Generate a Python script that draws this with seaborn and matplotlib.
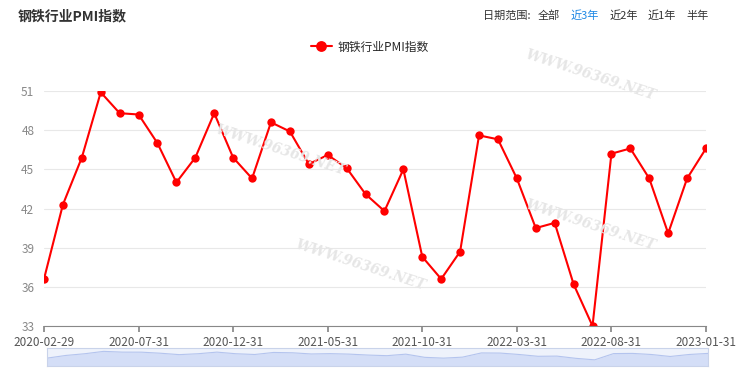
import numpy as np
import pandas as pd
import matplotlib
matplotlib.use("Agg")
import matplotlib.pyplot as plt
import seaborn as sns

sns.set_theme(style="white")
plt.rcParams['font.family'] = ['Noto Sans CJK SC', 'DejaVu Sans']

# monthly steel PMI, Feb 2020 .. Jan 2023
dates = pd.date_range("2020-02-29", periods=36, freq="ME")
pmi = [36.6, 42.3, 45.9, 50.9, 49.3, 49.2, 47.0, 44.0, 45.9, 49.3, 45.9, 44.3,
       48.6, 47.9, 45.4, 46.1, 45.1, 43.1, 41.8, 45.0, 38.3, 36.6, 38.7, 47.6,
       47.3, 44.3, 40.5, 40.9, 36.2, 33.0, 46.2, 46.6, 44.3, 40.1, 44.3, 46.6]
yticks = [33, 36, 39, 42, 45, 48, 51]
series_name = "钢铁行业PMI指数"
range_btns = ["全部", "近3年", "近2年", "近1年", "半年"]

df = pd.DataFrame({"date": dates, "value": pmi, "idx": np.arange(len(pmi))})
tick_idx = list(range(0, len(pmi), 5))
tick_lbl = [df["date"][i].strftime("%Y-%m-%d") for i in tick_idx]

fig = plt.figure(figsize=(7.4, 3.74), dpi=100)
ax = fig.add_axes([44 / 740, 1 - 326 / 374, 662 / 740, 235 / 374])

# faint watermarks
for (wx, wy) in [(280, 150), (360, 265), (590, 75), (590, 225)]:
    fig.text(wx / 740, 1 - wy / 374, "WWW.96369.NET", fontsize=10, family="DejaVu Serif",
             style="italic", fontweight="bold", color="#e6e6e6", rotation=-18,
             ha="center", va="center", zorder=0)

sns.lineplot(data=df, x="idx", y="value", ax=ax, color="#ff0000", lw=1.5,
             marker="o", markersize=6, markeredgewidth=0, label=series_name)
ax.patch.set_alpha(0)

ax.set_xlim(0, len(pmi) - 1)
ax.set_ylim(33, 51)
ax.set_yticks(yticks)
ax.set_yticklabels([str(v) for v in yticks], color="#888888", fontsize=8.5)
ax.set_xticks(tick_idx)
ax.set_xticklabels(tick_lbl, color="#555555", fontsize=8.5)
ax.tick_params(axis="x", length=4, color="#888888", pad=3, direction="out", bottom=True)
ax.tick_params(axis="y", length=0, pad=7)
ax.set_xlabel("")
ax.set_ylabel("")
ax.grid(axis="y", color="#e8e8e8", lw=0.8)
for s in ["top", "right", "left"]:
    ax.spines[s].set_visible(False)
ax.spines["bottom"].set_color("#888888")
ax.spines["bottom"].set_linewidth(0.8)

leg = ax.legend(loc="center", bbox_to_anchor=(0.5, 1 - 47 / 374), bbox_transform=fig.transFigure,
                frameon=False, fontsize=8.5, handlelength=1.8, handletextpad=0.5, markerscale=1.3)

# title and range buttons
fig.text(18 / 740, 1 - 16 / 374, series_name, fontsize=10, fontweight="bold", color="#333333", va="center")
fig.text(483 / 740, 1 - 16 / 374, "日期范围:", fontsize=8, color="#333333", va="center")
xs = [538, 571, 610, 648, 686]
for x, b in zip(xs, range_btns):
    fig.text(x / 740, 1 - 16 / 374, b, fontsize=8, va="center",
             color="#1e88e5" if b == "近3年" else "#333333")

# data zoom slider
sx = fig.add_axes([47 / 740, 1 - 366 / 374, 661 / 740, 18 / 374])
sx.fill_between(df["idx"], df["value"], 20, color="#d4def7", lw=0)
sns.lineplot(data=df, x="idx", y="value", ax=sx, color="#b4c4ee", lw=0.8)
sx.set_xlim(0, len(pmi) - 1)
sx.set_ylim(20, 58)
sx.set_facecolor("#eef2fb")
sx.set_xticks([])
sx.set_yticks([])
sx.set_xlabel("")
sx.set_ylabel("")
for s in sx.spines.values():
    s.set_color("#c9d3ea")
    s.set_linewidth(0.8)

fig.savefig("out.png", dpi=100)
